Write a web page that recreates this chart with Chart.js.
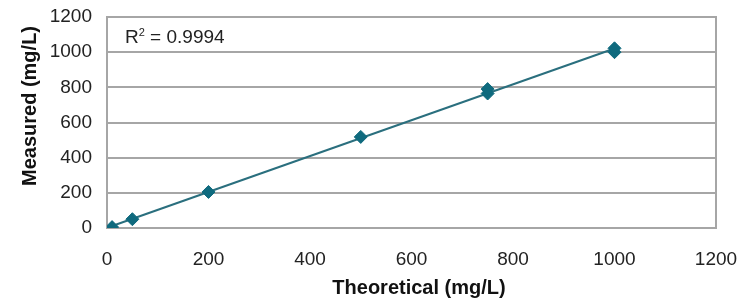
<!DOCTYPE html>
<html>
<head>
<meta charset="utf-8">
<script src="https://cdn.jsdelivr.net/npm/chart.js@4/dist/chart.umd.min.js"></script>
<style>
  html, body { margin: 0; padding: 0; background: #fff; }
  #wrap { width: 745px; height: 298px; }
</style>
</head>
<body>
<div id="wrap"><canvas id="myChart"></canvas></div>
<script>
// values
const theoretical = [10, 50, 200, 500, 750, 750, 1000, 1000];
const measured = [5, 50, 205, 518, 765, 790, 1000, 1022];
const xTicks = [0, 200, 400, 600, 800, 1000, 1200];
const yTicks = [0, 200, 400, 600, 800, 1000, 1200];
const r2Text = "0.9994";
const xTitle = "Theoretical (mg/L)";
const yTitle = "Measured (mg/L)";

const teal = "#0f6a7e";
const lineTeal = "#2a6f7e";
const gridGray = "#a6a6a6";
const font = "'Liberation Sans', Arial, Helvetica, sans-serif";

// least squares trendline from the points
let n = theoretical.length;
let sx = 0, sy = 0, sxx = 0, sxy = 0;
for (let i = 0; i < n; i++) {
  sx += theoretical[i]; sy += measured[i];
  sxx += theoretical[i] * theoretical[i]; sxy += theoretical[i] * measured[i];
}
const slope = (n * sxy - sx * sy) / (n * sxx - sx * sx);
const icpt = (sy - slope * sx) / n;
const xMin = Math.min(...theoretical), xMax = Math.max(...theoretical);
const trend = [
  { x: xMin, y: icpt + slope * xMin },
  { x: xMax, y: icpt + slope * xMax },
];

const points = theoretical.map((t, i) => ({ x: t, y: measured[i] }));

// plot frame, axis titles and R2 label
const extras = {
  id: "extras",
  beforeDatasetsDraw(chart) {
    const { ctx, chartArea: a } = chart;
    ctx.save();
    ctx.strokeStyle = gridGray;
    ctx.lineWidth = 2;
    ctx.strokeRect(a.left, a.top, a.right - a.left, a.bottom - a.top);
    ctx.restore();
  },
  afterDraw(chart) {
    const { ctx } = chart;
    ctx.save();
    ctx.fillStyle = "#111";
    ctx.font = "bold 20px " + font;
    ctx.textAlign = "center";
    ctx.textBaseline = "middle";
    ctx.fillText(xTitle, 419, 288);
    ctx.translate(30, 106);
    ctx.rotate(-Math.PI / 2);
    ctx.fillText(yTitle, 0, 0);
    ctx.restore();

    ctx.save();
    ctx.fillStyle = "#222";
    ctx.textBaseline = "alphabetic";
    ctx.textAlign = "left";
    ctx.font = "19px " + font;
    let x = 125, y = 43;
    ctx.fillText("R", x, y);
    x += ctx.measureText("R").width;
    ctx.font = "11px " + font;
    ctx.fillText("2", x, y - 7);
    x += ctx.measureText("2").width;
    ctx.font = "19px " + font;
    ctx.fillText(" = " + r2Text, x, y);
    ctx.restore();
  },
};

// let the layout padding alone set the plot box
function noOverhang(s) {
  s.paddingTop = 0; s.paddingBottom = 0; s.paddingLeft = 0; s.paddingRight = 0;
}

new Chart(document.querySelector("#myChart"), {
  type: "scatter",
  data: {
    datasets: [
      {
        label: "Measured",
        data: points,
        pointStyle: "rectRot",
        pointRadius: 6.5,
        pointHoverRadius: 6.5,
        backgroundColor: teal,
        borderColor: teal,
        borderWidth: 1,
        order: 0,
      },
      {
        label: "Linear",
        type: "line",
        data: trend,
        borderColor: lineTeal,
        borderWidth: 2,
        pointRadius: 0,
        fill: false,
        order: 1,
      },
    ],
  },
  options: {
    responsive: true,
    maintainAspectRatio: false,
    animation: false,
    layout: { padding: { top: 17, right: 29, left: 0, bottom: 0 } },
    plugins: { legend: { display: false }, tooltip: { enabled: false } },
    scales: {
      x: {
        type: "linear",
        min: 0,
        max: 1200,
        afterBuildTicks: (s) => { s.ticks = xTicks.map((v) => ({ value: v })); },
        afterFit: (s) => { s.height = 70; noOverhang(s); },
        grid: { display: false, drawTicks: false },
        border: { display: false },
        ticks: {
          padding: 20,
          color: "#222",
          font: { family: font, size: 19 },
          callback: (v) => String(v),
        },
      },
      y: {
        type: "linear",
        min: 0,
        max: 1200,
        afterBuildTicks: (s) => { s.ticks = yTicks.map((v) => ({ value: v })); },
        afterFit: (s) => { s.width = 107; noOverhang(s); },
        grid: { color: gridGray, lineWidth: 2, drawTicks: false },
        border: { display: false },
        ticks: {
          padding: 15,
          color: "#222",
          font: { family: font, size: 19 },
          callback: (v) => String(v),
        },
      },
    },
  },
  plugins: [extras],
});
</script>
</body>
</html>
